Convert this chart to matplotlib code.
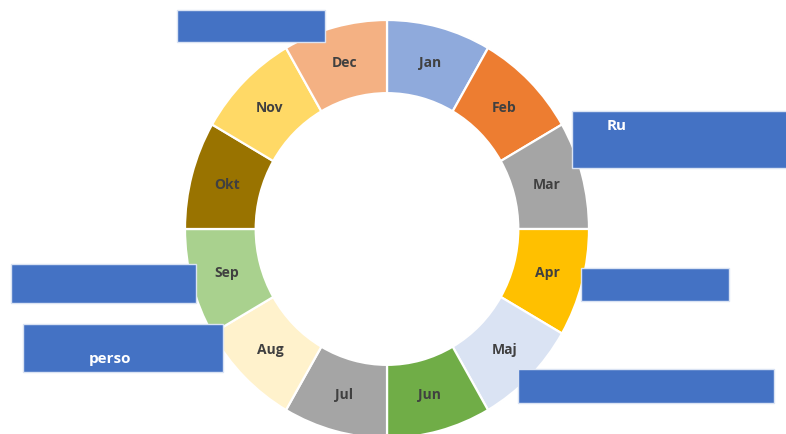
import numpy as np
import matplotlib.pyplot as plt
from matplotlib.patches import Rectangle

# data
months = ['Jan', 'Feb', 'Mar', 'Apr', 'Maj', 'Jun', 'Jul', 'Aug', 'Sep', 'Okt', 'Nov', 'Dec']
values = [1] * 12
colors = ['#8FAADC', '#ED7D31', '#A5A5A5', '#FFC000', '#DAE3F3', '#70AD47',
          '#A5A5A5', '#FFF2CC', '#A9D18E', '#997300', '#FFD966', '#F4B183']

# blue text boxes laid over the chart (x0, y0, x1, y1 in pixels from top left) and their texts
boxes = [(177, 10, 325, 42), (572, 111, 790, 168), (11, 264, 196, 303),
         (23, 324, 223, 372), (581, 268, 729, 301), (518, 369, 774, 403)]
box_texts = [('Ru', 607, 126, 'left'), ('perso', 110, 359, 'center')]

W, H = 786, 434
fig = plt.figure(figsize=(W / 100, H / 100), dpi=100)

cx, cy, rx, ry = 387, 229, 202, 209
ax = fig.add_axes([(cx - rx) / W, (H - cy - ry) / H, 2 * rx / W, 2 * ry / H])
wedges, _ = ax.pie(values, colors=colors, startangle=90, counterclock=False, radius=1,
                   wedgeprops=dict(width=0.35, edgecolor='white', linewidth=1.6))
ax.set_aspect('auto')
ax.set_xlim(-1, 1)
ax.set_ylim(-1, 1)

for w, m in zip(wedges, months):
    ang = np.deg2rad((w.theta1 + w.theta2) / 2)
    r = 0.82
    ax.text(r * np.cos(ang), r * np.sin(ang), m, ha='center', va='center',
            fontsize=10, fontweight='bold', color='#404040', family='Open Sans')

# overlay for the boxes
ov = fig.add_axes([0, 0, 1, 1])
ov.set_xlim(0, W)
ov.set_ylim(H, 0)
ov.axis('off')
for x0, y0, x1, y1 in boxes:
    ov.add_patch(Rectangle((x0, y0), x1 - x0, y1 - y0, facecolor='#4472C4',
                           edgecolor='#DAE3F3', linewidth=1))
for t, x, y, ha in box_texts:
    ov.text(x, y, t, ha=ha, va='center', color='white', fontsize=11,
            fontweight='bold', family='Open Sans')

fig.savefig('out.png', dpi=100)
